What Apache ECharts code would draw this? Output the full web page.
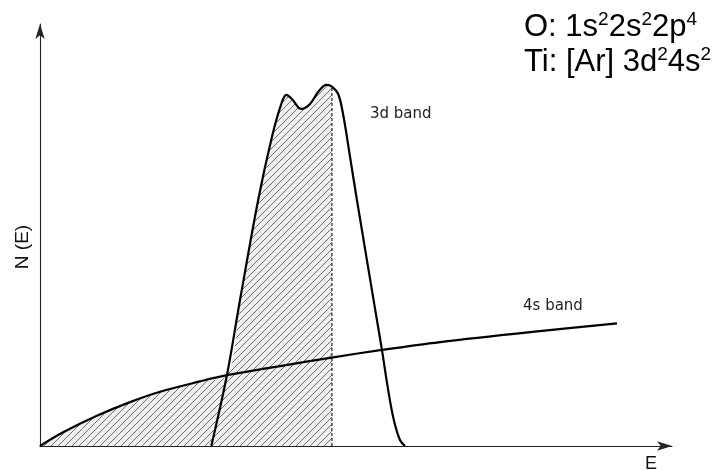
<!DOCTYPE html>
<html>
<head>
<meta charset="utf-8">
<script src="https://cdn.jsdelivr.net/npm/echarts@6/dist/echarts.min.js"></script>
<style>
  html, body { margin: 0; padding: 0; background: #fff; }
  #chart { width: 723px; height: 471px; }
</style>
</head>
<body>
<div id="chart"></div>
<script>
// Density of states N(E) versus energy E, arbitrary units
const band4s = [
  [0, 0], [3.7, 3.3], [9.1, 7.3], [14.4, 10.6], [19.2, 13.1], [25.6, 15.6],
  [29.9, 17.1], [38.4, 19.3], [46.4, 21.3], [54.7, 23.2], [64.0, 25.1],
  [78.4, 27.5], [92.3, 29.6]
];
const band3d = [
  [27.4, 0], [29.9, 17.1], [32.0, 35.3], [34.9, 59.4], [37.1, 74.6],
  [38.6, 82.6], [39.4, 84.8], [40.3, 83.8], [41.8, 81.4], [43.2, 82.6],
  [44.5, 85.5], [45.8, 87.2], [46.7, 86.8], [47.7, 85.0], [48.5, 80.0],
  [49.6, 69.8], [50.7, 59.4], [53.9, 30.4], [54.7, 23.2], [55.7, 13.5],
  [56.6, 6.3], [57.6, 1.4], [58.4, 0]
];
const fermiEnergy = 46.7;     // occupied states end here
const crossingEnergy = 29.9;  // where the 3d band rises above the 4s band
const energyMax = 101.1;
const densityMax = 101.9;
const bandLabels = { d: '3d band', s: '4s band' };
const axisNames = { x: 'E', y: 'N (E)' };

// Occupied states: under the 4s band up to the crossing, then under the 3d band up to E_F
const occupied = band4s.filter(p => p[0] <= crossingEnergy)
  .concat(band3d.filter(p => p[0] > crossingEnergy && p[0] <= fermiEnergy));
const fermiTop = band3d.find(p => p[0] === fermiEnergy)[1];

// Diagonal hatching tile
function hatchTile() {
  const s = 7;
  const c = document.createElement('canvas');
  c.width = s; c.height = s;
  const g = c.getContext('2d');
  g.fillStyle = '#efefef';
  g.fillRect(0, 0, s, s);
  g.strokeStyle = '#6e6e6e';
  g.lineWidth = 1;
  g.beginPath();
  g.moveTo(-1, s + 1); g.lineTo(s + 1, -1);
  g.moveTo(-1, 1); g.lineTo(1, -1);
  g.moveTo(s - 1, s + 1); g.lineTo(s + 1, s - 1);
  g.stroke();
  return c;
}

const chart = echarts.init(document.getElementById('chart'), null, { renderer: 'canvas' });

function axis(max) {
  return {
    type: 'value', min: 0, max: max,
    axisLine: { show: true, symbol: ['none', 'arrow'], symbolSize: [7, 15],
                lineStyle: { color: '#222', width: 1.1 } },
    axisTick: { show: false }, axisLabel: { show: false }, splitLine: { show: false }
  };
}

chart.setOption({
  animation: false,
  backgroundColor: '#fff',
  grid: { left: 40, right: 51, top: 24, bottom: 25 },
  xAxis: axis(energyMax),
  yAxis: axis(densityMax),
  series: [
    {
      type: 'line', data: occupied, smooth: 0.35, symbol: 'none', silent: true,
      lineStyle: { width: 0 },
      areaStyle: { color: { image: hatchTile(), repeat: 'repeat' }, opacity: 1 },
      z: 1
    },
    {
      type: 'line', data: [[fermiEnergy, 0], [fermiEnergy, fermiTop]], symbol: 'none',
      lineStyle: { color: '#333', width: 1.3, type: [3, 2] }, z: 2
    },
    {
      type: 'line', data: band4s, smooth: 0.35, symbol: 'none',
      lineStyle: { color: '#000', width: 2.2 }, z: 3
    },
    {
      type: 'line', data: band3d, smooth: 0.35, symbol: 'none',
      lineStyle: { color: '#000', width: 2.2 }, z: 3
    }
  ],
  graphic: [
    { type: 'text', left: 370, top: 107,
      style: { text: bandLabels.d, font: '15px "DejaVu Sans"', fill: '#222' } },
    { type: 'text', left: 523, top: 299,
      style: { text: bandLabels.s, font: '15px "DejaVu Sans"', fill: '#222' } },
    { type: 'text', left: 645, top: 455,
      style: { text: axisNames.x, font: '18px "Liberation Sans"', fill: '#111' } },
    { type: 'text', x: 23, y: 247, rotation: Math.PI / 2,
      style: { text: axisNames.y, font: '19px "Liberation Sans"', fill: '#111',
               align: 'center', verticalAlign: 'middle' } },
    { type: 'text', left: 524, top: 10,
      style: {
        text: '{b|O: 1s}{s|2}{b|2s}{s|2}{b|2p}{s|4}\n{b|Ti: [Ar] 3d}{s|2}{b|4s}{s|2}',
        rich: {
          b: { fontSize: 31, fontFamily: 'Liberation Sans', lineHeight: 35, fill: '#000' },
          s: { fontSize: 19, fontFamily: 'Liberation Sans', lineHeight: 16,
               verticalAlign: 'top', fill: '#000' }
        }
      } }
  ]
});
</script>
</body>
</html>
